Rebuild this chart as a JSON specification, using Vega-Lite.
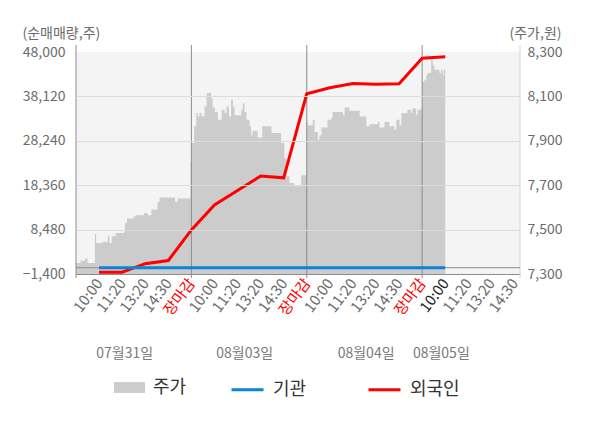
{
  "$schema": "https://vega.github.io/schema/vega-lite/v6.json",
  "width": 444,
  "height": 222,
  "autosize": {"type": "none"},
  "padding": {"left": 76, "top": 52, "right": 80, "bottom": 154},
  "background": "#ffffff",
  "config": {
    "view": {"fill": "#f4f4f4", "stroke": null},
    "font": "Noto Sans CJK KR",
    "axis": {"labelFont": "Noto Sans CJK KR", "titleFont": "Noto Sans CJK KR"},
    "legend": {"labelFont": "Noto Sans CJK KR"}
  },
  "datasets": {
    "price": [
      {"t": 0.0, "price": 7350}, {"t": 0.2, "price": 7360}, {"t": 0.4, "price": 7370},
      {"t": 0.5, "price": 7350}, {"t": 0.82, "price": 7480}, {"t": 0.87, "price": 7440},
      {"t": 1.15, "price": 7445}, {"t": 1.38, "price": 7470}, {"t": 1.45, "price": 7440},
      {"t": 1.55, "price": 7470}, {"t": 1.72, "price": 7485}, {"t": 2.08, "price": 7490},
      {"t": 2.12, "price": 7530}, {"t": 2.21, "price": 7550}, {"t": 2.5, "price": 7560},
      {"t": 2.6, "price": 7565}, {"t": 2.95, "price": 7575}, {"t": 3.1, "price": 7565},
      {"t": 3.27, "price": 7590}, {"t": 3.53, "price": 7625}, {"t": 3.62, "price": 7645},
      {"t": 4.29, "price": 7625}, {"t": 4.4, "price": 7640},
      {"t": 4.96, "price": 7805}, {"t": 5.02, "price": 7890}, {"t": 5.12, "price": 7965},
      {"t": 5.21, "price": 8025}, {"t": 5.28, "price": 8010}, {"t": 5.35, "price": 8025},
      {"t": 5.44, "price": 8010}, {"t": 5.57, "price": 8055}, {"t": 5.66, "price": 8115},
      {"t": 5.86, "price": 8090}, {"t": 5.92, "price": 8050}, {"t": 6.02, "price": 8030},
      {"t": 6.15, "price": 7995}, {"t": 6.31, "price": 8040}, {"t": 6.44, "price": 8025},
      {"t": 6.52, "price": 8055}, {"t": 6.63, "price": 8010}, {"t": 6.72, "price": 8085},
      {"t": 6.8, "price": 8055}, {"t": 6.87, "price": 8015}, {"t": 7.16, "price": 8040},
      {"t": 7.23, "price": 8070}, {"t": 7.3, "price": 8030}, {"t": 7.39, "price": 7995},
      {"t": 7.52, "price": 7965}, {"t": 7.59, "price": 7925}, {"t": 7.65, "price": 7945},
      {"t": 7.87, "price": 7915}, {"t": 8.07, "price": 7965}, {"t": 8.47, "price": 7935},
      {"t": 8.89, "price": 7890}, {"t": 9.03, "price": 7820}, {"t": 9.12, "price": 7740},
      {"t": 9.25, "price": 7710}, {"t": 9.45, "price": 7695}, {"t": 9.76, "price": 7745},
      {"t": 9.98, "price": 7985}, {"t": 10.04, "price": 7970}, {"t": 10.26, "price": 7995},
      {"t": 10.34, "price": 7940}, {"t": 10.48, "price": 7905}, {"t": 10.55, "price": 7925},
      {"t": 10.64, "price": 7960}, {"t": 10.9, "price": 7995}, {"t": 11.07, "price": 8005},
      {"t": 11.12, "price": 8030}, {"t": 11.56, "price": 8015}, {"t": 11.64, "price": 8050},
      {"t": 11.85, "price": 8035}, {"t": 12.29, "price": 8010}, {"t": 12.58, "price": 7965},
      {"t": 12.72, "price": 7975}, {"t": 13.08, "price": 7985}, {"t": 13.15, "price": 7960},
      {"t": 13.37, "price": 7985}, {"t": 13.58, "price": 7965}, {"t": 13.8, "price": 7950},
      {"t": 13.88, "price": 7995}, {"t": 14.02, "price": 7970}, {"t": 14.1, "price": 8025},
      {"t": 14.36, "price": 8040}, {"t": 14.52, "price": 8025}, {"t": 14.58, "price": 8045},
      {"t": 14.74, "price": 8015}, {"t": 14.8, "price": 8040}, {"t": 14.97, "price": 8050},
      {"t": 15.0, "price": 8165}, {"t": 15.1, "price": 8175}, {"t": 15.18, "price": 8195},
      {"t": 15.23, "price": 8205}, {"t": 15.39, "price": 8265}, {"t": 15.46, "price": 8240},
      {"t": 15.53, "price": 8220}, {"t": 15.75, "price": 8205}, {"t": 15.83, "price": 8220},
      {"t": 15.9, "price": 8195}, {"t": 15.94, "price": 8220}, {"t": 16.0, "price": 8220}
    ],
    "flow": [
      {"t": 1, "inst": 0, "foreign": -1000},
      {"t": 2, "inst": 0, "foreign": -1000},
      {"t": 3, "inst": 0, "foreign": 900},
      {"t": 4, "inst": 0, "foreign": 1600},
      {"t": 5, "inst": 0, "foreign": 8400},
      {"t": 6, "inst": 0, "foreign": 13950},
      {"t": 7, "inst": 0, "foreign": 17200},
      {"t": 8, "inst": 0, "foreign": 20400},
      {"t": 9, "inst": 0, "foreign": 20000},
      {"t": 10, "inst": 0, "foreign": 38700},
      {"t": 11, "inst": 0, "foreign": 40050},
      {"t": 12, "inst": 0, "foreign": 41000},
      {"t": 13, "inst": 0, "foreign": 40800},
      {"t": 14, "inst": 0, "foreign": 40950},
      {"t": 15, "inst": 0, "foreign": 46600},
      {"t": 16, "inst": 0, "foreign": 46950}
    ],
    "seps": [{"t": 0}, {"t": 5}, {"t": 10}, {"t": 15}, {"t": 19.24}]
  },
  "layer": [
    {
      "data": {"name": "price"},
      "mark": {"type": "area", "interpolate": "step-after", "clip": true},
      "encoding": {
        "x": {
          "field": "t", "type": "quantitative",
          "scale": {"domain": [0, 19.24], "nice": false, "zero": false},
          "axis": {
            "orient": "bottom", "title": null,
            "values": [1, 2, 3, 4, 5, 6, 7, 8, 9, 10, 11, 12, 13, 14, 15, 16, 17, 18, 19],
            "labelExpr": "['','10:00','11:20','13:20','14:30','장마감','10:00','11:20','13:20','14:30','장마감','10:00','11:20','13:20','14:30','장마감','10:00','11:20','13:20','14:30'][datum.value]",
            "labelAngle": -53, "labelFontSize": 15, "labelPadding": 6,
            "labelColor": {"condition": [{"test": "datum.value % 5 === 0", "value": "#ff0000"}, {"test": "datum.value === 16", "value": "#222222"}], "value": "#6b6b6b"},
            "labelOverlap": false, "labelFlush": false, "labelBound": false,
            "ticks": false, "grid": false, "domain": true, "domainColor": "#8c8c8c"
          }
        },
        "y": {
          "field": "price", "type": "quantitative",
          "scale": {"domain": [7300, 8300], "nice": false, "zero": false},
          "axis": {
            "orient": "right", "title": "(주가,원)",
            "values": [7300, 7500, 7700, 7900, 8100, 8300], "format": ",.0f",
            "labelFontSize": 14, "labelColor": "#6b6b6b", "labelPadding": 7,
            "ticks": false, "grid": false, "domain": false,
            "titleAngle": 0, "titleAlign": "left", "titleBaseline": "middle",
            "titleX": -11, "titleY": -19, "titleFontSize": 14, "titleFontWeight": "normal", "titleColor": "#6b6b6b"
          }
        },
        "y2": {"datum": 7300},
        "fill": {
          "datum": "주가",
          "scale": {"domain": ["주가"], "range": ["#cccccc"]},
          "legend": {
            "orient": "none", "legendX": 38, "legendY": 320, "title": null,
            "direction": "horizontal",
            "symbolType": "M-1,-0.35H1V0.35H-1Z", "symbolSize": 961, "symbolStrokeWidth": 0,
            "labelFontSize": 18, "labelColor": "#333333", "labelOffset": 8
          }
        }
      }
    },
    {
      "layer": [
        {
          "data": {"name": "seps"},
          "mark": {"type": "rule", "strokeWidth": 1},
          "encoding": {
            "x": {
              "field": "t", "type": "quantitative",
              "scale": {"domain": [0, 19.24], "nice": false, "zero": false},
              "axis": {
                "orient": "bottom", "offset": 70, "title": null,
                "values": [2.09, 7.29, 12.55, 15.81],
                "labelExpr": "datum.value < 5 ? '07월31일' : datum.value < 10 ? '08월03일' : datum.value < 15 ? '08월04일' : '08월05일'",
                "labelAngle": 0, "labelFontSize": 14, "labelColor": "#7a7a7a", "labelPadding": 2,
                "labelOverlap": false, "labelFlush": false, "labelBound": false,
                "ticks": false, "grid": false, "domain": false
              }
            },
            "y": {
              "datum": 49560, "type": "quantitative",
              "scale": {"domain": [-1400, 48000], "nice": false, "zero": false},
              "axis": {
                "orient": "left", "title": "(순매매량,주)", "zindex": 1,
                "values": [-1400, 8480, 18360, 28240, 38120, 48000], "format": ",.0f",
                "labelFontSize": 14, "labelColor": "#6b6b6b", "labelPadding": 11,
                "ticks": false, "domain": false,
                "grid": true, "gridColor": "#dcdcdc",
                "gridOpacity": {"condition": {"test": "datum.value === 48000 || datum.value === -1400", "value": 0}, "value": 1},
                "titleAngle": 0, "titleAlign": "left", "titleBaseline": "middle",
                "titleX": -54, "titleY": -19, "titleFontSize": 14, "titleFontWeight": "normal", "titleColor": "#6b6b6b"
              }
            },
            "y2": {"datum": -2290},
            "color": {"condition": {"test": "datum.t > 19", "value": "#d4d4d4"}, "value": "#8c8c8c"}
          }
        },
        {
          "data": {"values": [{}]},
          "mark": {"type": "rule", "color": "#8c8c8c", "strokeWidth": 1},
          "encoding": {
            "y": {"datum": 0, "type": "quantitative"}
          }
        },
        {
          "data": {"name": "flow"},
          "mark": {"type": "line", "strokeWidth": 3},
          "encoding": {
            "x": {"field": "t", "type": "quantitative"},
            "y": {"field": "foreign", "type": "quantitative"},
            "stroke": {
              "datum": "외국인",
              "scale": {"domain": ["기관", "외국인"], "range": ["#0a84d6", "#ff0000"]},
              "legend": {
                "orient": "none", "legendX": 154, "legendY": 320, "title": null,
                "direction": "horizontal", "columnPadding": 55,
                "symbolType": "stroke", "symbolSize": 1024, "symbolStrokeWidth": 3,
                "labelFontSize": 18, "labelColor": "#333333", "labelOffset": 8
              }
            }
          }
        },
        {
          "data": {"name": "flow"},
          "mark": {"type": "line", "strokeWidth": 3},
          "encoding": {
            "x": {"field": "t", "type": "quantitative"},
            "y": {"field": "inst", "type": "quantitative"},
            "stroke": {"datum": "기관"}
          }
        }
      ]
    }
  ],
  "resolve": {"scale": {"y": "independent"}, "axis": {"x": "independent"}}
}
